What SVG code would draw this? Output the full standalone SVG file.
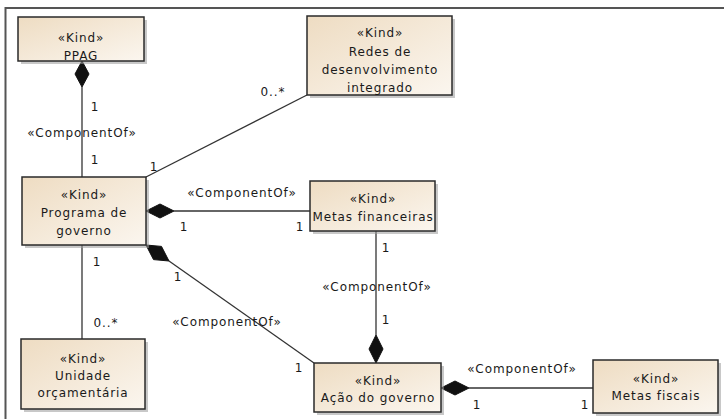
<svg xmlns="http://www.w3.org/2000/svg" width="725" height="419" viewBox="0 0 725 419">
<defs>
<linearGradient id="fill" x1="0" y1="0" x2="1" y2="1">
<stop offset="0" stop-color="#eedcc2"/>
<stop offset="1" stop-color="#fbf6ef"/>
</linearGradient>
<style>
text{font-family:"DejaVu Sans","Verdana",sans-serif;font-size:12px;letter-spacing:0.9px;fill:#1a1a1a}
.c{text-anchor:middle}
.box{fill:url(#fill);stroke:#2a2a2a;stroke-width:1.5}
.sh{fill:#9a9a9a;opacity:0.55}
.ln{stroke:#333;stroke-width:1.3;fill:none}
.dm{fill:#111;stroke:#111;stroke-width:1}
</style>
</defs>
<rect width="725" height="419" fill="#fff"/>
<path d="M5.5 419 V8 H724" fill="none" stroke="#555" stroke-width="2"/>

<g id="connectors">
<line class="ln" x1="82" y1="87" x2="82" y2="177"/>
<line class="ln" x1="82" y1="245" x2="82" y2="339"/>
<line class="ln" x1="146" y1="177" x2="307" y2="95"/>
<line class="ln" x1="174" y1="211" x2="310" y2="211"/>
<line class="ln" x1="169" y1="261" x2="314" y2="363"/>
<line class="ln" x1="376" y1="231" x2="376" y2="335"/>
<line class="ln" x1="469" y1="388" x2="593" y2="388"/>
<path class="dm" d="M82 61 L89 74 L82 87 L75 74 Z"/>
<path class="dm" d="M146 211 L160 204 L174 211 L160 218 Z"/>
<path class="dm" d="M146 245 L161.5 246.4 L169 261 L153.5 259.6 Z"/>
<path class="dm" d="M376 363 L383 349 L376 335 L369 349 Z"/>
<path class="dm" d="M441 388 L455 381 L469 388 L455 395 Z"/>
<text x="95" y="111" class="c">1</text>
<text x="82" y="137" class="c">«ComponentOf»</text>
<text x="95" y="164" class="c">1</text>
<text x="154" y="171" class="c">1</text>
<text x="273" y="96" class="c">0..*</text>
<text x="242" y="197" class="c">«ComponentOf»</text>
<text x="184" y="231" class="c">1</text>
<text x="300" y="231" class="c">1</text>
<text x="97" y="266" class="c">1</text>
<text x="106" y="327" class="c">0..*</text>
<text x="178" y="281" class="c">1</text>
<text x="227" y="326" class="c">«ComponentOf»</text>
<text x="299" y="372" class="c">1</text>
<text x="386" y="252" class="c">1</text>
<text x="377" y="291" class="c">«ComponentOf»</text>
<text x="386" y="324" class="c">1</text>
<text x="522" y="373" class="c">«ComponentOf»</text>
<text x="477" y="409" class="c">1</text>
<text x="585" y="409" class="c">1</text>
</g>

<g id="ppag">
<rect class="sh" x="21" y="20" width="126" height="44"/>
<rect class="box" x="18" y="17" width="126" height="44"/>
<text x="81" y="42" class="c">«Kind»</text>
<text x="81" y="60" class="c">PPAG</text>
</g>

<g id="redes">
<rect class="sh" x="310" y="19" width="145" height="79"/>
<rect class="box" x="307" y="16" width="145" height="79"/>
<text x="380" y="37" class="c">«Kind»</text>
<text x="380" y="56" class="c">Redes de</text>
<text x="380" y="74" class="c">desenvolvimento</text>
<text x="380" y="92" class="c">integrado</text>
</g>

<g id="programa">
<rect class="sh" x="25" y="180" width="124" height="68"/>
<rect class="box" x="22" y="177" width="124" height="68"/>
<text x="84" y="199" class="c">«Kind»</text>
<text x="84" y="217" class="c">Programa de</text>
<text x="84" y="235" class="c">governo</text>
</g>

<g id="metas-financeiras">
<rect class="sh" x="313" y="184" width="125" height="50"/>
<rect class="box" x="310" y="181" width="125" height="50"/>
<text x="373" y="203" class="c">«Kind»</text>
<text x="373" y="221" class="c">Metas financeiras</text>
</g>

<g id="unidade">
<rect class="sh" x="24" y="342" width="124" height="70"/>
<rect class="box" x="21" y="339" width="124" height="70"/>
<text x="83" y="363" class="c">«Kind»</text>
<text x="83" y="380" class="c">Unidade</text>
<text x="83" y="397" class="c">orçamentária</text>
</g>

<g id="acao">
<rect class="sh" x="317" y="366" width="127" height="49"/>
<rect class="box" x="314" y="363" width="127" height="49"/>
<text x="378" y="385" class="c">«Kind»</text>
<text x="378" y="402" class="c">Ação do governo</text>
</g>

<g id="metas-fiscais">
<rect class="sh" x="596" y="363" width="125" height="53"/>
<rect class="box" x="593" y="360" width="125" height="53"/>
<text x="656" y="383" class="c">«Kind»</text>
<text x="656" y="400" class="c">Metas fiscais</text>
</g>
</svg>
